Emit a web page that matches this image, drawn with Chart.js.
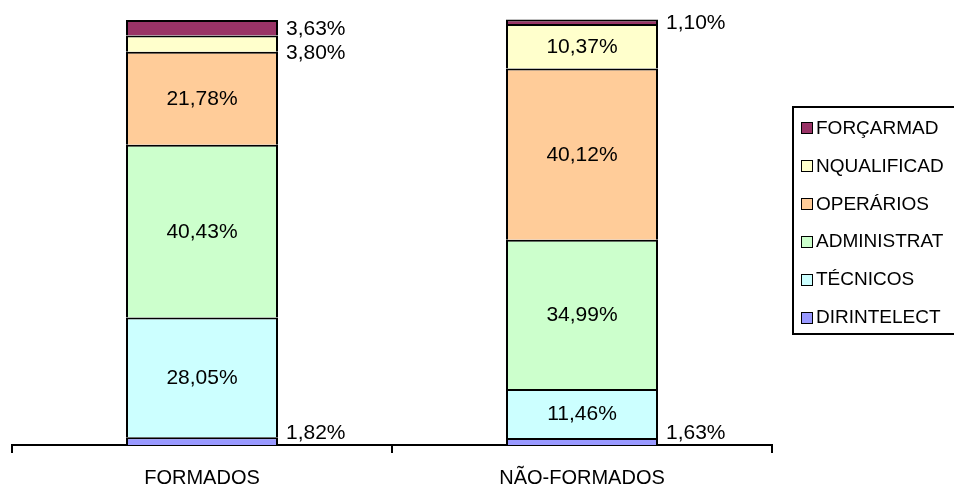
<!DOCTYPE html>
<html>
<head>
<meta charset="utf-8">
<script src="https://cdn.jsdelivr.net/npm/chart.js@4/dist/chart.umd.min.js"></script>
<style>
html,body{margin:0;padding:0;background:#fff;}
#wrap{width:954px;height:486px;position:relative;overflow:hidden;}
</style>
</head>
<body>
<div id="wrap"><canvas id="c" width="954" height="486"></canvas></div>
<script>
const categories = ['FORMADOS', 'NÃO-FORMADOS'];
const seriesNames = ['DIRINTELECT', 'TÉCNICOS', 'ADMINISTRAT', 'OPERÁRIOS', 'NQUALIFICAD', 'FORÇARMAD'];
const dirintelect = [1.82, 1.63];
const tecnicos = [28.05, 11.46];
const administrat = [40.43, 34.99];
const operarios = [21.78, 40.12];
const nqualificad = [3.80, 10.37];
const forcarmad = [3.63, 1.10];
const seriesColors = ['#9999FF', '#CCFFFF', '#CCFFCC', '#FFCC99', '#FFFFCC', '#993366'];

const FONT = '"Liberation Sans", Arial, Helvetica, sans-serif';
const seriesValues = [dirintelect, tecnicos, administrat, operarios, nqualificad, forcarmad];

function fmt(v){ return v.toFixed(2).replace('.', ',') + '%'; }

const labelPlugin = {
  id: 'valueLabels',
  afterDatasetsDraw(chart){
    const ctx = chart.ctx;
    const area = chart.chartArea;
    ctx.save();
    ctx.font = '21px ' + FONT;
    ctx.fillStyle = '#000';
    ctx.textBaseline = 'middle';
    for (let i = 0; i < categories.length; i++) {
      const outside = [];
      chart.data.datasets.forEach((ds, di) => {
        const el = chart.getDatasetMeta(di).data[i];
        const v = ds.data[i];
        const top = Math.min(el.y, el.base), bot = Math.max(el.y, el.base);
        const cy = (top + bot) / 2;
        if (v >= 5) {
          ctx.textAlign = 'center';
          ctx.fillText(fmt(v), el.x, cy + 1);
        } else {
          outside.push({v, x: el.x + el.width / 2 + 8, y: cy, di});
        }
      });
      outside.forEach(o => { if (o.di === 0) o.y = Math.min(o.y, area.bottom - 13); });
      const tops = outside.filter(o => o.di !== 0).sort((a, b) => a.y - b.y);
      for (let k = 1; k < tops.length; k++) {
        if (tops[k].y - tops[k-1].y < 24) tops[k].y = tops[k-1].y + 24;
      }
      ctx.textAlign = 'left';
      outside.forEach(o => ctx.fillText(fmt(o.v), o.x, o.y + 1));
    }
    ctx.restore();
  }
};

const legendPlugin = {
  id: 'boxLegend',
  afterDraw(chart){
    const ctx = chart.ctx;
    ctx.save();
    ctx.strokeStyle = '#000';
    ctx.lineWidth = 2;
    ctx.strokeRect(793, 107, 400, 227);
    ctx.font = '19px ' + FONT;
    ctx.textAlign = 'left';
    ctx.textBaseline = 'middle';
    const n = chart.data.datasets.length;
    for (let k = 0; k < n; k++) {
      const ds = chart.data.datasets[n - 1 - k];
      const cy = 127.5 + k * 37.9;
      ctx.fillStyle = ds.backgroundColor;
      ctx.fillRect(801, Math.round(cy - 5.5), 11, 11);
      ctx.lineWidth = 1;
      ctx.strokeStyle = '#000';
      ctx.strokeRect(801.5, Math.round(cy - 5.5) + 0.5, 11, 11);
      ctx.fillStyle = '#000';
      ctx.fillText(ds.label, 816, cy + 1);
    }
    ctx.restore();
  }
};

new Chart(document.getElementById('c'), {
  type: 'bar',
  data: {
    labels: categories,
    datasets: seriesNames.map((name, i) => ({
      label: name,
      data: seriesValues[i],
      backgroundColor: seriesColors[i],
      borderColor: '#000',
      borderWidth: 2,
      categoryPercentage: 1.0,
      barPercentage: 0.4
    }))
  },
  options: {
    responsive: false,
    animation: false,
    events: [],
    layout: { padding: { left: 12, right: 182, top: 18, bottom: 0 } },
    plugins: { legend: { display: false }, tooltip: { enabled: false } },
    scales: {
      x: {
        stacked: true,
        border: { display: true, color: '#000', width: 2 },
        grid: { display: true, drawOnChartArea: false, drawTicks: true, tickLength: 8, color: '#000', lineWidth: 2, offset: true },
        ticks: { color: '#000', font: { family: FONT, size: 20 }, padding: 13, maxRotation: 0 },
        afterFit(scale){ scale.height = 41; }
      },
      y: {
        stacked: true,
        display: false,
        min: 0,
        max: 100
      }
    }
  },
  plugins: [labelPlugin, legendPlugin]
});
</script>
</body>
</html>
